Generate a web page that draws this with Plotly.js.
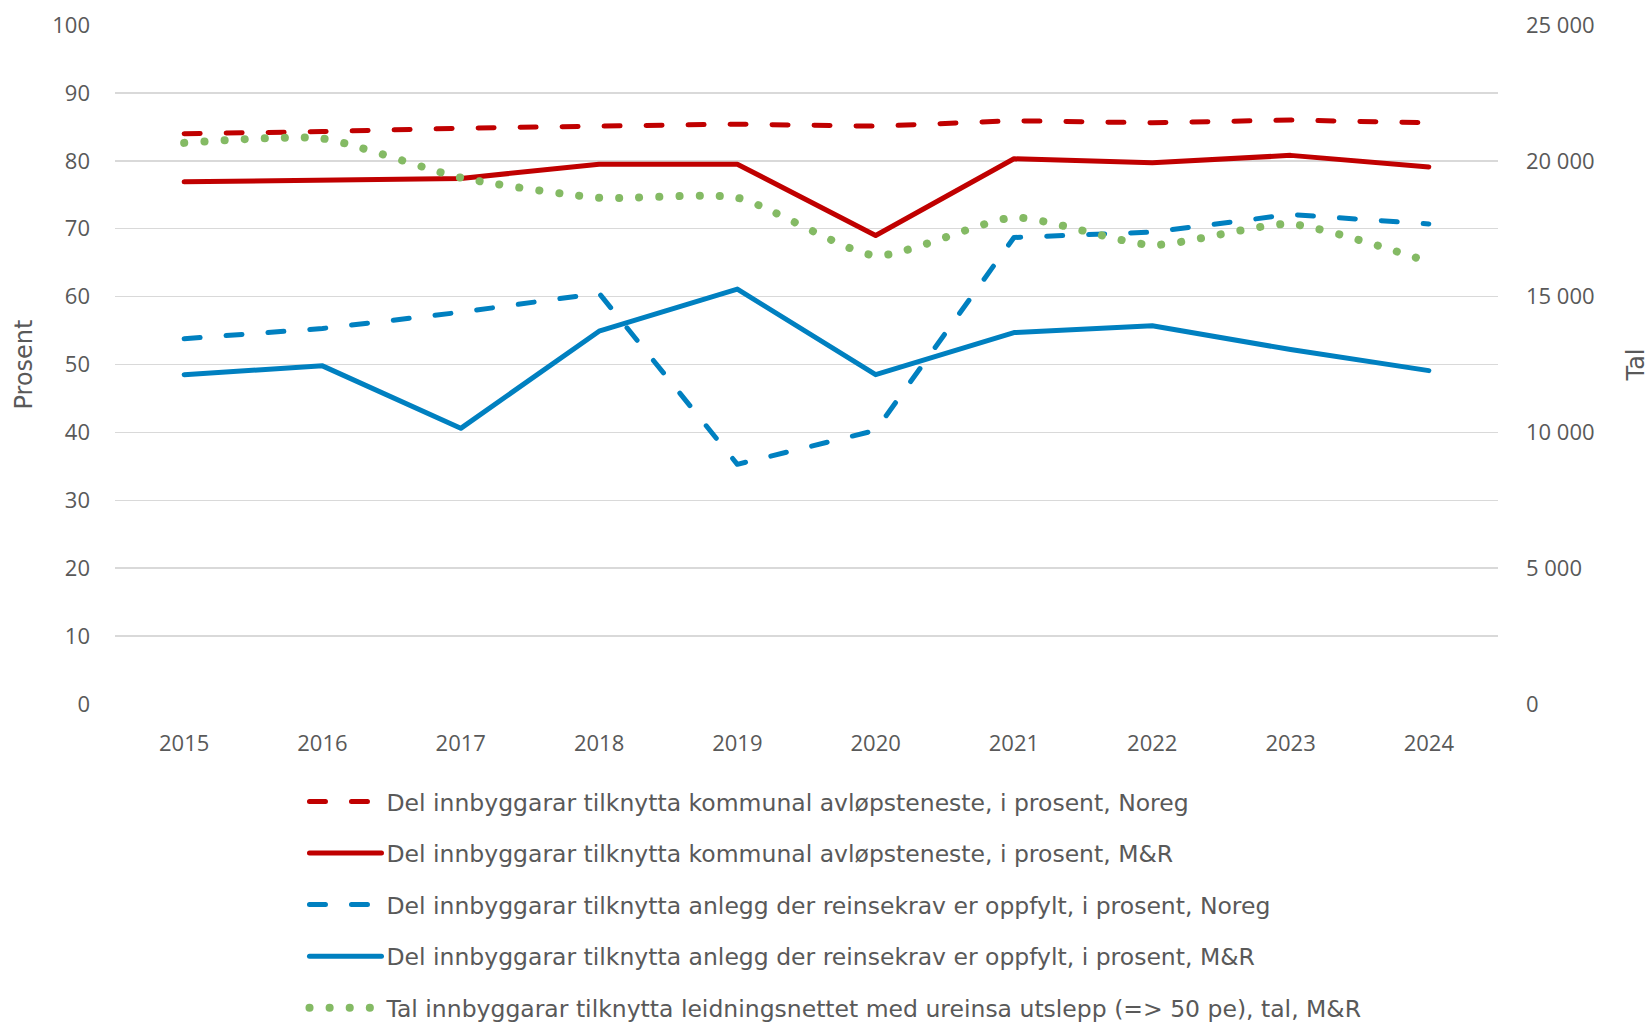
<!DOCTYPE html>
<html>
<head>
<meta charset="utf-8">
<script src="https://cdn.plot.ly/plotly-3.0.1.min.js"></script>
<style>
  html, body { margin: 0; padding: 0; background: #fff; }
  #chart { width: 1650px; height: 1023px; }
  .js-line { stroke-linecap: round; stroke-linejoin: round; }
</style>
</head>
<body>
<div id="chart"></div>
<script>
const years = ['2015', '2016', '2017', '2018', '2019', '2020', '2021', '2022', '2023', '2024'];
const kommunalNoreg = [84.0, 84.3, 84.8, 85.1, 85.4, 85.1, 85.9, 85.6, 86.0, 85.6];
const kommunalMR = [76.9, 77.2, 77.4, 79.5, 79.5, 69.0, 80.3, 79.7, 80.8, 79.1];
const reinsekravNoreg = [53.8, 55.3, 57.7, 60.5, 35.3, 40.3, 68.7, 69.5, 72.1, 70.7];
const reinsekravMR = [48.5, 49.8, 40.6, 54.9, 61.1, 48.5, 54.7, 55.7, 52.2, 49.1];
const ureinsaMR = [20660, 20820, 19380, 18640, 18640, 16510, 17910, 16900, 17670, 16280];

const names = [
  'Del innbyggarar tilknytta kommunal avløpsteneste, i prosent, Noreg',
  'Del innbyggarar tilknytta kommunal avløpsteneste, i prosent, M&R',
  'Del innbyggarar tilknytta anlegg der reinsekrav er oppfylt, i prosent, Noreg',
  'Del innbyggarar tilknytta anlegg der reinsekrav er oppfylt, i prosent, M&R',
  'Tal innbyggarar tilknytta leidningsnettet med ureinsa utslepp (=> 50 pe), tal, M&R'
];

const RED = '#C00000';
const BLUE = '#0080C0';
const GREEN = '#84BA64';
const FONT = '"Open Sans", "Noto Sans", sans-serif';
const WIDE = '"DejaVu Sans", "Open Sans", sans-serif';
const TXT = '#595959';

const traces = [
  { x: years, y: kommunalNoreg, name: names[0], legendgroup: 'a', yaxis: 'y',
    type: 'scatter', mode: 'lines', line: { color: RED, width: 5, dash: '16px,26px' } },
  { x: years, y: kommunalMR, name: names[1], legendgroup: 'b', yaxis: 'y',
    type: 'scatter', mode: 'lines', line: { color: RED, width: 5 } },
  { x: years, y: reinsekravNoreg, name: names[2], legendgroup: 'c', yaxis: 'y',
    type: 'scatter', mode: 'lines', line: { color: BLUE, width: 5, dash: '16px,26px' } },
  { x: years, y: reinsekravMR, name: names[3], legendgroup: 'd', yaxis: 'y',
    type: 'scatter', mode: 'lines', line: { color: BLUE, width: 5 } },
  { x: years, y: ureinsaMR, name: names[4], legendgroup: 'e', yaxis: 'y2',
    type: 'scatter', mode: 'lines', line: { color: GREEN, width: 8, dash: '0.1px,20px', shape: 'spline', smoothing: 0.6 } }
];

const layout = {
  width: 1650, height: 1023,
  margin: { l: 115, r: 152, t: 25, b: 319 },
  paper_bgcolor: '#ffffff', plot_bgcolor: '#ffffff',
  separators: ', ',
  font: { family: FONT, size: 22, color: TXT },
  showlegend: true,
  legend: {
    orientation: 'v', xref: 'paper', yref: 'container',
    x: 0.137, xanchor: 'left', y: 0.2378, yanchor: 'top',
    traceorder: 'grouped', tracegroupgap: 18, itemwidth: 72,
    font: { family: WIDE, size: 23.5, color: TXT }, bgcolor: 'rgba(0,0,0,0)'
  },
  xaxis: {
    type: 'category', range: [-0.5, 9.5], showgrid: false, zeroline: false, showline: false, ticks: '',
    ticklabelstandoff: 24, tickfont: { family: FONT, size: 22, color: TXT }
  },
  yaxis: {
    range: [0, 100], dtick: 10, tick0: 0, showgrid: true, gridcolor: '#D9D9D9', gridwidth: 1.5,
    zeroline: false, showline: false, ticks: '', ticklabelstandoff: 24,
    tickfont: { family: FONT, size: 22, color: TXT },
    title: { text: 'Prosent', font: { family: WIDE, size: 24, color: TXT }, standoff: 12 }
  },
  yaxis2: {
    range: [0, 25000], dtick: 5000, tick0: 0, overlaying: 'y', side: 'right',
    showgrid: false, zeroline: false, showline: false, ticks: '', ticklabelstandoff: 27,
    tickformat: ',d',
    tickfont: { family: FONT, size: 22, color: TXT },
    title: { text: 'Tal', font: { family: WIDE, size: 24, color: TXT }, standoff: 34 }
  }
};

Plotly.newPlot('chart', traces, layout, { displayModeBar: false, staticPlot: true });
</script>
</body>
</html>
